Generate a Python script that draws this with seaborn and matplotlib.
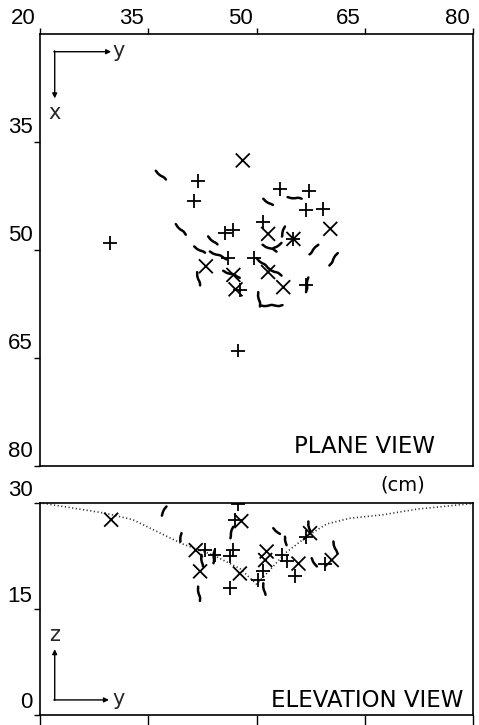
import numpy as np
import pandas as pd
import seaborn as sns
import matplotlib
matplotlib.use("Agg")
import matplotlib.pyplot as plt
from matplotlib.transforms import ScaledTranslation

# ---------------- data ----------------
# Plane view: crosses (y, x) in cm
plane_plus_y = [41.9, 41.4, 53.2, 57.2, 56.9, 59.2, 29.8, 45.6, 46.8, 50.9, 55.1, 46.1, 49.6, 47.7, 56.8, 47.5]
plane_plus_x = [40.4, 43.1, 41.5, 41.8, 44.4, 44.3, 49.0, 47.6, 47.1, 46.0, 48.4, 51.0, 51.0, 55.5, 54.8, 63.9]
plane_cross_y = [48.1, 60.2, 51.6, 55.1, 43.0, 51.6, 46.8, 47.1, 53.7]
plane_cross_x = [37.5, 47.0, 47.7, 48.4, 52.2, 53.0, 53.4, 55.4, 55.1]

# Plane view: short crack traces (start y, start x, end y, end x)
plane_seg_y0 = [36.07, 50.93, 54.30, 38.84, 43.31, 41.38, 43.55, 53.93, 50.84, 52.32, 58.55, 61.23, 41.79, 45.39, 50.01, 51.62, 50.24, 50.47, 57.16]
plane_seg_x0 = [38.93, 42.82, 42.59, 46.34, 48.05, 49.44, 50.14, 46.67, 49.21, 49.68, 49.21, 50.37, 53.01, 52.82, 51.06, 52.45, 55.79, 57.64, 53.75]
plane_seg_y1 = [37.45, 52.22, 56.24, 40.22, 44.56, 42.85, 45.85, 53.47, 52.78, 53.47, 57.30, 60.07, 42.16, 47.70, 51.62, 53.47, 50.47, 53.47, 56.84]
plane_seg_x1 = [40.18, 43.75, 42.82, 47.82, 49.21, 50.37, 51.16, 48.05, 50.14, 48.98, 50.51, 52.08, 54.86, 53.75, 52.45, 53.47, 57.78, 57.64, 55.79]

# Elevation view: crosses (y, z) in cm
elev_plus_y = [47.5, 47.0, 42.9, 44.2, 46.8, 46.3, 46.3, 50.2, 53.5, 54.2, 55.3, 56.9, 59.5, 50.9]
elev_plus_z = [29.8, 27.6, 23.3, 22.6, 23.3, 22.4, 17.9, 19.1, 22.6, 21.7, 19.6, 25.2, 21.4, 20.3]
elev_cross_y = [47.9, 41.6, 42.2, 47.7, 51.4, 51.2, 55.8, 57.4, 60.4, 29.9]
elev_cross_z = [27.4, 23.3, 20.3, 20.0, 23.1, 21.9, 21.4, 25.7, 21.9, 27.6]

# Elevation view: short crack traces
elev_seg_y0 = [37.55, 39.63, 46.78, 52.32, 53.94, 57.17, 60.63, 57.63, 41.93, 44.24, 50.94, 42.40]
elev_seg_z0 = [29.47, 25.70, 26.60, 26.40, 25.20, 27.35, 24.52, 22.16, 18.15, 23.34, 18.62, 22.63]
elev_seg_y1 = [36.86, 39.49, 46.32, 53.25, 54.17, 57.40, 61.09, 58.32, 42.17, 44.01, 51.17, 42.53]
elev_seg_z1 = [28.20, 24.50, 25.00, 25.60, 24.00, 25.93, 22.87, 20.98, 16.12, 21.45, 16.97, 20.98]

# Elevation view: dotted surface profile
profile_y = [20, 29.2, 32.9, 36.5, 39.7, 44.0, 47.7, 50.0, 51.4, 54.0, 57.2, 59.7, 62.9, 67.5, 72.2, 80]
profile_z = [30, 28.5, 27.6, 25.8, 24.2, 22.6, 20.7, 18.5, 20.0, 22.9, 25.4, 27.0, 27.8, 28.3, 29.1, 29.9]

plane_ticks = [20, 35, 50, 65, 80]
plane_left_ticks = [35, 50, 65, 80]
elev_ticks = [0, 15, 30]

# ---------------- style ----------------
sns.set_theme(style="white")
plt.rcParams["font.family"] = ["DejaVu Sans"]
NUMFONT = "Liberation Sans"

fig = plt.figure(figsize=(4.79, 7.25), dpi=100)
ax1 = fig.add_axes([0.0825, 0.3566, 0.906, 0.5959])
ax2 = fig.add_axes([0.0825, 0.0138, 0.906, 0.2928])

px = 1 / 100.0  # one pixel in inches

def crosses(ax, py, pv, qy, qv):
    df = pd.DataFrame({
        "h": list(py) + list(qy),
        "v": list(pv) + list(qv),
        "kind": ["plus"] * len(py) + ["cross"] * len(qy),
    })
    sns.scatterplot(data=df, x="h", y="v", style="kind",
                    markers={"plus": "+", "cross": "x"}, color="black",
                    s=100, linewidth=1.3, legend=False, ax=ax, zorder=3)

def segs(ax, y0, v0, y1, v1):
    for a, b, c, d in zip(y0, v0, y1, v1):
        ln, = ax.plot([a, c], [b, d], color="black", lw=1.8,
                      solid_capstyle="round", zorder=3)
        ln.set_sketch_params(0.6, 14, 2.0)

# ---------- plane view ----------
crosses(ax1, plane_plus_y, plane_plus_x, plane_cross_y, plane_cross_x)
segs(ax1, plane_seg_y0, plane_seg_x0, plane_seg_y1, plane_seg_x1)
ax1.set_xlim(20, 80)
ax1.set_ylim(80, 20)
ax1.set_xlabel("")
ax1.set_ylabel("")
ax1.xaxis.set_ticks_position("top")
ax1.set_xticks(plane_ticks)
ax1.set_yticks(plane_left_ticks)
ax1.tick_params(axis="x", which="major", top=True, bottom=False, direction="out",
                length=4, width=1.0, pad=0, labelsize=16, colors="black")
ax1.tick_params(axis="y", which="major", left=True, direction="out",
                length=4, width=1.0, pad=1, labelsize=16, colors="black")
ax1.set_xticklabels([str(t) for t in plane_ticks], ha="right", fontfamily=NUMFONT)
ax1.set_yticklabels([str(t) for t in plane_left_ticks], va="bottom", fontfamily=NUMFONT)

ax1.text(0.912, 0.031, "PLANE VIEW", transform=ax1.transAxes, ha="right",
         va="baseline", fontsize=16.5, color="black")
# orientation arrows
ax1.annotate("", xy=(0.165, 0.960), xytext=(0.033, 0.960), xycoords="axes fraction",
             arrowprops=dict(arrowstyle="-|>", lw=1.0, color="black", mutation_scale=7, shrinkA=0, shrinkB=0))
ax1.annotate("", xy=(0.035, 0.852), xytext=(0.035, 0.962), xycoords="axes fraction",
             arrowprops=dict(arrowstyle="-|>", lw=1.0, color="black", mutation_scale=7, shrinkA=0, shrinkB=0))
ax1.text(0.168, 0.962, "y", transform=ax1.transAxes, ha="left", va="center", fontsize=15)
ax1.text(0.035, 0.842, "x", transform=ax1.transAxes, ha="center", va="top", fontsize=15)

# ---------- elevation view ----------
sns.lineplot(x=profile_y, y=profile_z, sort=False, color="#333333", lw=1.2,
             linestyle=(0, (0.7, 1.5)), ax=ax2, zorder=2)
crosses(ax2, elev_plus_y, elev_plus_z, elev_cross_y, elev_cross_z)
segs(ax2, elev_seg_y0, elev_seg_z0, elev_seg_y1, elev_seg_z1)
ax2.set_xlim(20, 80)
ax2.set_ylim(0, 30)
ax2.set_xlabel("")
ax2.set_ylabel("")
ax2.set_xticks(plane_ticks)
ax2.set_yticks(elev_ticks)
ax2.tick_params(axis="x", which="major", bottom=True, direction="out",
                length=8, width=1.0, colors="black", labelbottom=False)
ax2.tick_params(axis="y", which="major", left=True, direction="out",
                length=4, width=1.0, pad=1, labelsize=16, colors="black")
ax2.set_yticklabels([str(t) for t in elev_ticks], va="bottom", fontfamily=NUMFONT)

ax2.text(0.977, 0.039, "ELEVATION VIEW", transform=ax2.transAxes, ha="right",
         va="baseline", fontsize=16.5, color="black")
ax2.annotate("", xy=(0.035, 0.31), xytext=(0.035, 0.069), xycoords="axes fraction",
             arrowprops=dict(arrowstyle="-|>", lw=1.0, color="black", mutation_scale=7, shrinkA=0, shrinkB=0))
ax2.annotate("", xy=(0.16, 0.071), xytext=(0.033, 0.071), xycoords="axes fraction",
             arrowprops=dict(arrowstyle="-|>", lw=1.0, color="black", mutation_scale=7, shrinkA=0, shrinkB=0))
ax2.text(0.035, 0.33, "z", transform=ax2.transAxes, ha="center", va="bottom", fontsize=15)
ax2.text(0.168, 0.075, "y", transform=ax2.transAxes, ha="left", va="center", fontsize=15)

fig.text(0.841, 0.331, "(cm)", ha="center", va="center", fontsize=14, color="black")

for ax in (ax1, ax2):
    for sp in ax.spines.values():
        sp.set_visible(True)
        sp.set_color("black")
        sp.set_linewidth(1.2)
    ax.grid(False)

# small offsets of the tick labels, as in the original drawing
for lab in ax1.get_xticklabels():
    lab.set_transform(lab.get_transform() + ScaledTranslation(-4 * px, 0, fig.dpi_scale_trans))
for lab in ax1.get_yticklabels():
    lab.set_transform(lab.get_transform() + ScaledTranslation(0, 4 * px, fig.dpi_scale_trans))
for lab in ax2.get_yticklabels():
    lab.set_transform(lab.get_transform() + ScaledTranslation(0, 2 * px, fig.dpi_scale_trans))

fig.savefig("out.png", dpi=100, facecolor="white")
